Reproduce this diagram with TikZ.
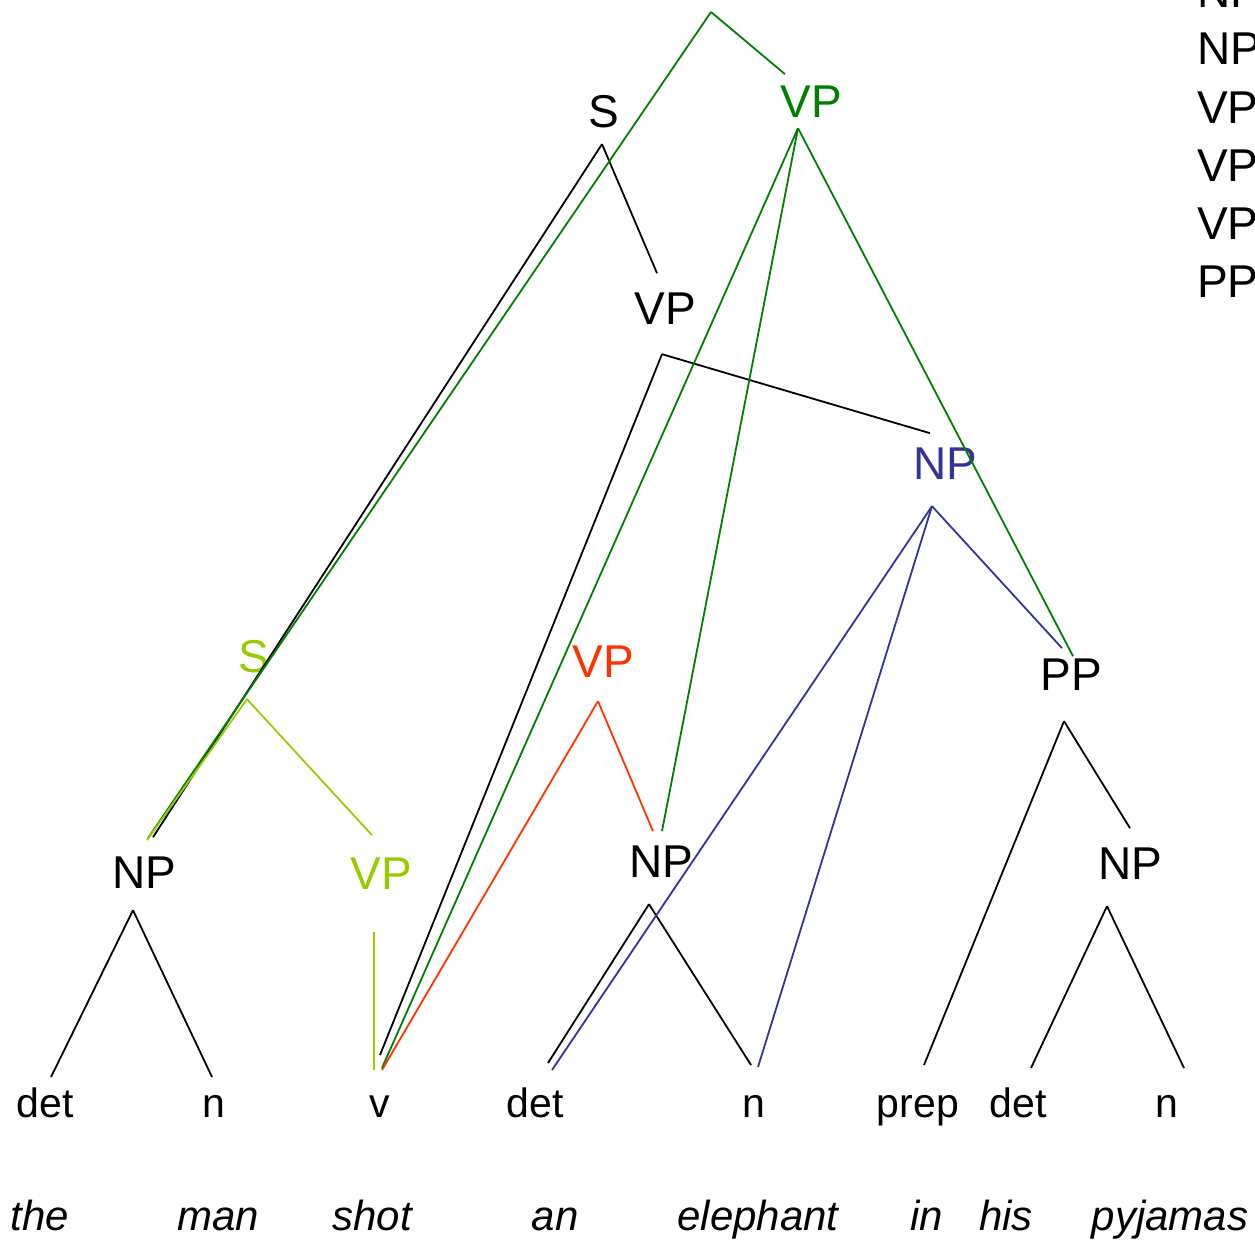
\documentclass[tikz,border=0pt]{standalone}
\usepackage{fontspec}
\setmainfont{Liberation Sans}
\definecolor{tgreen}{RGB}{0,128,0}
\definecolor{tyg}{RGB}{153,204,0}
\definecolor{tred}{RGB}{255,51,0}
\definecolor{tblue}{RGB}{51,51,153}
\begin{document}
\begin{tikzpicture}[x=1pt,y=-1pt,
  lab/.style={anchor=base,inner sep=0pt,font=\fontsize{46}{50}\selectfont},
  leaf/.style={anchor=base,inner sep=0pt,font=\fontsize{41}{45}\selectfont},
  word/.style={anchor=base,inner sep=0pt,font=\fontsize{42}{46}\selectfont\itshape},
  rulelab/.style={anchor=base west,inner sep=0pt,font=\fontsize{46}{50}\selectfont},
  eblack/.style={line width=1.8pt,black},
  egreen/.style={line width=1.8pt,tgreen},
  eyg/.style={line width=1.8pt,tyg},
  ered/.style={line width=1.8pt,tred},
  eblue/.style={line width=1.8pt,tblue}]
\useasboundingbox (0,0) rectangle (1255,1239);
\clip (0,0) rectangle (1255,1239);

% rule list (cut off at right edge)
\node[rulelab] (r0) at (1197,8) {NP};
\node[rulelab] (r1) at (1197,65) {NP};
\node[rulelab] (r2) at (1197,123) {VP};
\node[rulelab] (r3) at (1197,181) {VP};
\node[rulelab] (r4) at (1197,239) {VP};
\node[rulelab] (r5) at (1197,297) {PP};

% phrase labels
\coordinate (apex) at (711,12);
\node[lab] (Sb) at (604,127) {S};
\node[lab,text=tgreen] (VPg) at (811,117) {VP};
\node[lab] (VPb) at (665,324) {VP};
\node[lab,text=tblue] (NPb) at (945,479) {NP};
\node[lab,text=tyg] (Syg) at (254,672) {S};
\node[lab,text=tred] (VPr) at (603,677) {VP};
\node[lab] (PP) at (1071,690) {PP};
\node[lab] (NPl) at (144,888) {NP};
\node[lab,text=tyg] (VPyg) at (381,889) {VP};
\node[lab] (NPm) at (661,877) {NP};
\node[lab] (NPr) at (1130,879) {NP};

% part-of-speech leaves
\node[leaf] (det1) at (45,1117) {det};
\node[leaf] (n1) at (214,1117) {n};
\node[leaf] (v) at (380,1117) {v};
\node[leaf] (det2) at (535,1117) {det};
\node[leaf] (n2) at (754,1117) {n};
\node[leaf] (prep) at (918,1117) {prep};
\node[leaf] (det3) at (1018,1117) {det};
\node[leaf] (n3) at (1167,1117) {n};

% words
\node[word] (w1) at (40,1230) {the};
\node[word] (w2) at (218,1230) {man};
\node[word] (w3) at (372,1230) {shot};
\node[word] (w4) at (555,1230) {an};
\node[word] (w5) at (758,1230) {elephant};
\node[word] (w6) at (927,1230) {in};
\node[word] (w7) at (1006,1230) {his};
\node[word] (w8) at (1170,1230) {pyjamas};

% black tree
\draw[eblack] ([shift={(-2,33)}]Sb.center) -- ([shift={(9,-35)}]NPl.center);
\draw[eblack] ([shift={(-2,33)}]Sb.center) -- ([shift={(-8,-35)}]VPb.center);
\draw[eblack] ([shift={(-3,46)}]VPb.center) -- ([shift={(0,-62)}]v.base);
\draw[eblack] ([shift={(-3,46)}]VPb.center) -- ([shift={(-15,-30)}]NPb.center);
\draw[eblack] ([shift={(-11,38)}]NPl.center) -- ([shift={(6,-40)}]det1.base);
\draw[eblack] ([shift={(-11,38)}]NPl.center) -- ([shift={(-2,-40)}]n1.base);
\draw[eblack] ([shift={(-12,43)}]NPm.center) -- ([shift={(13,-54)}]det2.base);
\draw[eblack] ([shift={(-12,43)}]NPm.center) -- ([shift={(-3,-52)}]n2.base);
\draw[eblack] ([shift={(-7,47)}]PP.center) -- ([shift={(6,-52)}]prep.base);
\draw[eblack] ([shift={(-7,47)}]PP.center) -- ([shift={(0,-35)}]NPr.center);
\draw[eblack] ([shift={(-23,43)}]NPr.center) -- ([shift={(13,-49)}]det3.base);
\draw[eblack] ([shift={(-23,43)}]NPr.center) -- ([shift={(17,-49)}]n3.base);

% green tree
\draw[egreen] (apex) -- ([shift={(-26,-27)}]VPg.center);
\draw[egreen] (apex) -- ([shift={(4,-34)}]NPl.center);
\draw[egreen] ([shift={(-13,27)}]VPg.center) -- ([shift={(2,-49)}]v.base);
\draw[egreen] ([shift={(-13,27)}]VPg.center) -- ([shift={(1,-30)}]NPm.center);
\draw[egreen] ([shift={(-13,27)}]VPg.center) -- ([shift={(2,-18)}]PP.center);

% yellow-green tree
\draw[eyg] ([shift={(-7,43)}]Syg.center) -- ([shift={(3,-32)}]NPl.center);
\draw[eyg] ([shift={(-7,43)}]Syg.center) -- ([shift={(-9,-38)}]VPyg.center);
\draw[eyg] ([shift={(-7,59)}]VPyg.center) -- ([shift={(-6,-47)}]v.base);

% red tree
\draw[ered] ([shift={(-5,40)}]VPr.center) -- ([shift={(2,-47)}]v.base);
\draw[ered] ([shift={(-5,40)}]VPr.center) -- ([shift={(-8,-30)}]NPm.center);

% blue tree
\draw[eblue] ([shift={(-13,43)}]NPb.center) -- ([shift={(17,-47)}]det2.base);
\draw[eblue] ([shift={(-13,43)}]NPb.center) -- ([shift={(4,-50)}]n2.base);
\draw[eblue] ([shift={(-13,43)}]NPb.center) -- ([shift={(-9,-26)}]PP.center);
\end{tikzpicture}
\end{document}
